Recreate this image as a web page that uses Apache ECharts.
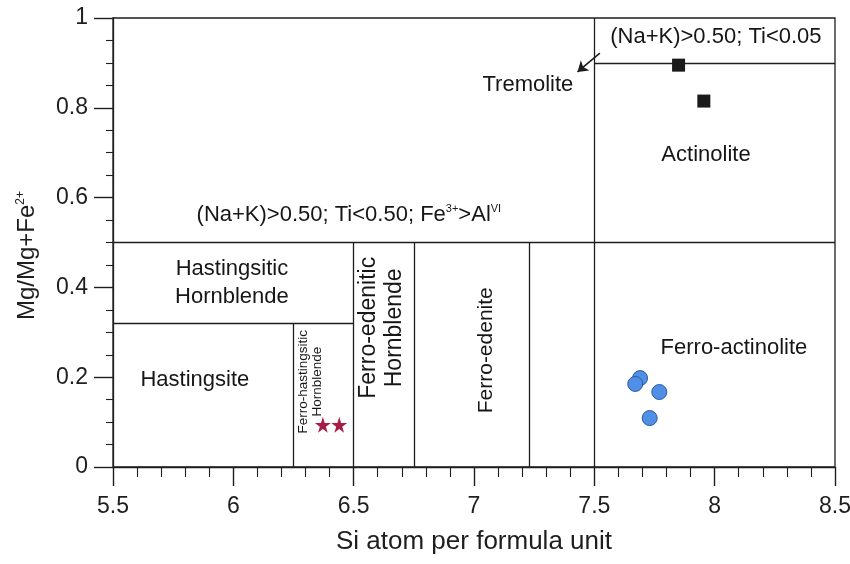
<!DOCTYPE html>
<html>
<head>
<meta charset="utf-8">
<script src="https://cdn.jsdelivr.net/npm/echarts@6/dist/echarts.min.js"></script>
<style>
  html, body { margin: 0; padding: 0; background: #fff; }
  #chart { width: 850px; height: 564px; }
</style>
</head>
<body>
<div id="chart"></div>
<script>
// sample points
var tremoliteX = [7.85, 7.955];
var tremoliteY = [0.895, 0.815];
var ferroActX = [7.69, 7.67, 7.77, 7.73];
var ferroActY = [0.198, 0.185, 0.167, 0.109];
var hastX = [6.372, 6.44];
var hastY = [0.094, 0.094];

// field boundaries [x1, y1, x2, y2]
var boundaries = [
  [5.5, 0.5, 8.5, 0.5],
  [7.5, 0, 7.5, 1],
  [7.5, 0.9, 8.5, 0.9],
  [5.5, 0.32, 6.5, 0.32],
  [6.25, 0, 6.25, 0.32],
  [6.5, 0, 6.5, 0.5],
  [6.75, 0, 6.75, 0.5],
  [7.23, 0, 7.23, 0.5]
];

// field names and where they sit
var fieldNames = [
  '(Na+K)>0.50; Ti<0.05',
  'Tremolite',
  'Actinolite',
  '(Na+K)>0.50; Ti<0.50; Fe{sup|3+}>Al{sup|VI}',
  'Hastingsitic\nHornblende',
  'Hastingsite',
  'Ferro-hastingsitic\nHornblende',
  'Ferro-edenitic\nHornblende',
  'Ferro-edenite',
  'Ferro-actinolite'
];
var fieldX = [8.005, 7.224, 7.964, 6.48, 5.994, 5.84, 6.318, 6.617, 7.05, 8.08];
var fieldY = [0.958, 0.851, 0.695, 0.561, 0.41, 0.194, 0.19, 0.31, 0.26, 0.265];

var arrowFrom = [7.523, 0.922];
var arrowTo = [7.43, 0.88];

var labelStyle = [
  {fontSize: 22},
  {fontSize: 22},
  {fontSize: 22},
  {fontSize: 22},
  {fontSize: 22, lineHeight: 28},
  {fontSize: 22},
  {fontSize: 13.5, rotate: 90, lineHeight: 14},
  {fontSize: 23, rotate: 90, lineHeight: 26},
  {fontSize: 21, rotate: 90},
  {fontSize: 22}
];

function pairs(xs, ys) {
  return xs.map(function (x, i) { return [x, ys[i]]; });
}

var starPath = 'path://M50,0 L61,35 L98,35 L68,57 L79,91 L50,70 L21,91 L32,57 L2,35 L39,35 Z';

var chart = echarts.init(document.getElementById('chart'));

var textData = fieldNames.map(function (name, i) {
  var s = labelStyle[i];
  return {
    value: [fieldX[i], fieldY[i]],
    label: {
      show: true,
      position: 'inside',
      formatter: name,
      fontSize: s.fontSize,
      lineHeight: s.lineHeight || s.fontSize + 2,
      rotate: s.rotate || 0,
      color: '#161616',
      rich: {
        sup: {fontSize: 11, verticalAlign: 'top', padding: [0, 0, 10, 0], color: '#161616'}
      }
    }
  };
});

var option = {
  animation: false,
  textStyle: {fontFamily: 'Liberation Sans, Arial, sans-serif'},
  grid: {
    left: 113, right: 15, top: 18, bottom: 97,
    outerBoundsMode: 'none',
    show: true, borderColor: '#1e1e1e', borderWidth: 1.3
  },
  xAxis: {
    type: 'value',
    min: 5.5, max: 8.5, interval: 0.5,
    name: 'Si atom per formula unit',
    nameLocation: 'middle',
    nameGap: 62,
    nameTextStyle: {fontSize: 26, color: '#1e1e1e'},
    axisLine: {lineStyle: {color: '#1e1e1e', width: 1.3}},
    axisTick: {show: true, length: 19, lineStyle: {color: '#1e1e1e', width: 1.4}},
    minorTick: {show: true, splitNumber: 5, length: 10, lineStyle: {color: '#1e1e1e', width: 1.1}},
    axisLabel: {fontSize: 23, color: '#1e1e1e', margin: 28},
    splitLine: {show: false}
  },
  yAxis: {
    type: 'value',
    min: 0, max: 1, interval: 0.2,
    name: 'Mg/Mg+Fe{sup|2+}',
    nameLocation: 'middle',
    nameGap: 74,
    nameTextStyle: {
      fontSize: 24, color: '#1e1e1e',
      padding: [0, 26, 0, 0],
      rich: {sup: {fontSize: 12, verticalAlign: 'top', padding: [0, 0, 12, 0], color: '#1e1e1e'}}
    },
    axisLine: {lineStyle: {color: '#1e1e1e', width: 1.3}},
    axisTick: {show: true, length: 19, lineStyle: {color: '#1e1e1e', width: 1.4}},
    minorTick: {show: true, splitNumber: 4, length: 7, lineStyle: {color: '#1e1e1e', width: 1.1}},
    axisLabel: {fontSize: 23, color: '#1e1e1e', margin: 25},
    splitLine: {show: false}
  },
  series: [
    {
      type: 'lines',
      coordinateSystem: 'cartesian2d',
      silent: true,
      lineStyle: {color: '#1e1e1e', width: 1.3, opacity: 1},
      data: boundaries.map(function (b) {
        return {coords: [[b[0], b[1]], [b[2], b[3]]]};
      })
    },
    {
      type: 'lines',
      coordinateSystem: 'cartesian2d',
      silent: true,
      symbol: ['none', 'arrow'],
      symbolSize: 10,
      lineStyle: {color: '#1e1e1e', width: 1.6, opacity: 1},
      data: [{coords: [arrowFrom, arrowTo]}]
    },
    {
      type: 'scatter',
      symbolSize: 0,
      silent: true,
      itemStyle: {opacity: 1},
      data: textData
    },
    {
      name: 'Tremolite-Actinolite',
      type: 'scatter',
      symbol: 'rect',
      symbolSize: 13,
      itemStyle: {color: '#1a1a1a', opacity: 1},
      data: pairs(tremoliteX, tremoliteY)
    },
    {
      name: 'Ferro-actinolite',
      type: 'scatter',
      symbol: 'circle',
      symbolSize: 15,
      itemStyle: {color: '#4f8fe6', borderColor: '#2a5aa0', borderWidth: 1, opacity: 1},
      data: pairs(ferroActX, ferroActY)
    },
    {
      name: 'Ferro-hastingsitic Hornblende',
      type: 'scatter',
      symbol: starPath,
      symbolSize: 16,
      itemStyle: {color: '#a81c48', opacity: 1},
      data: pairs(hastX, hastY)
    }
  ]
};

chart.setOption(option);
</script>
</body>
</html>
